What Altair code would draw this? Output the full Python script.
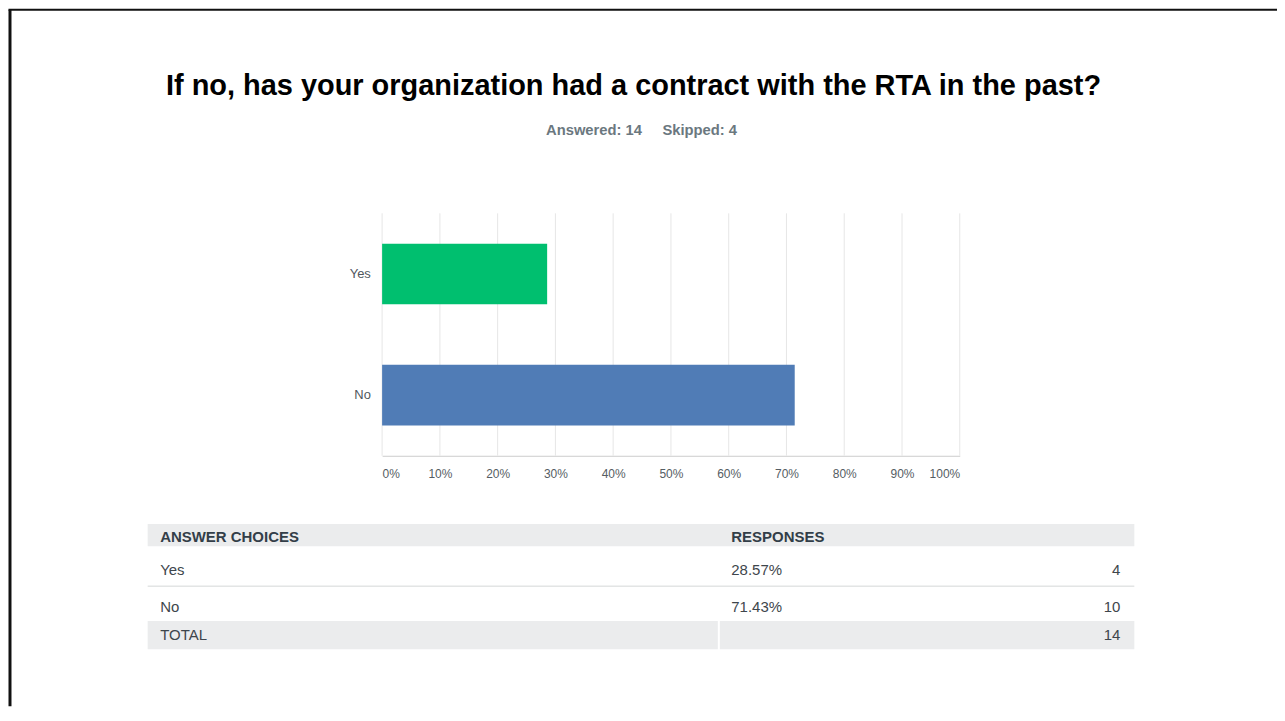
import altair as alt
import pandas as pd

# ---------------- data ----------------
choices = ["Yes", "No"]
percentages = [28.57, 71.43]
counts = [4, 10]
total_label = "TOTAL"
total_count = [14]
answered = 14
skipped = 4
ticks = [0, 10, 20, 30, 40, 50, 60, 70, 80, 90, 100]
bar_colors = ["#00bf6f", "#507cb6"]
title_text = "If no, has your organization had a contract with the RTA in the past?"
header_labels = ["ANSWER CHOICES", "RESPONSES"]

# ---------------- layout (view pixels) ----------------
FONT = "Liberation Sans"
W, H = 1270, 698
PLOT_X0, PLOT_X1 = 373, 952
PLOT_Y0, PLOT_Y1 = 204, 447
TX0, TX1 = 138, 1127
COL1, COL2, COL3 = 150.5, 723, 1113
ROW_Y = {"header": 533.3, "Yes": 567, "No": 603.3, "total": 631.3}

bars_df = pd.DataFrame({"answer": choices, "pct": percentages})
table_df = pd.DataFrame({"label": choices,
                         "frac": [p / 100 for p in percentages],
                         "count": counts})
ticks_df = pd.DataFrame({"tick": ticks})
one = pd.DataFrame({"k": [0]})

x_scale = alt.Scale(domain=[0, 100], range=[PLOT_X0, PLOT_X1], nice=False)
y_scale = alt.Scale(domain=choices, range=[PLOT_Y0, PLOT_Y1],
                    paddingInner=0.5, paddingOuter=0.25)
x_axis = alt.Axis(orient="bottom", offset=PLOT_Y1 - H, values=ticks,
                  labelExpr="datum.value + '%'", labelFlush=True,
                  labelOverlap=False, labelFont=FONT, labelFontSize=12,
                  labelColor="#555d63", labelPadding=13, ticks=False,
                  tickSize=0, grid=False, domainColor="#cccccc",
                  domainWidth=1, title=None)

# frame of the slide
frame_top = alt.Chart(one).mark_rule(color="#111111", strokeWidth=2).encode(
    x=alt.value(-1.5), x2=alt.value(W), y=alt.value(0))
frame_left = alt.Chart(one).mark_rule(color="#111111", strokeWidth=3).encode(
    x=alt.value(0), y=alt.value(0), y2=alt.value(H))

# title + subtitle
title = alt.Chart(pd.DataFrame({"t": [title_text]})).mark_text(
    font=FONT, fontSize=29, fontWeight="bold", color="#000000",
    align="center", baseline="alphabetic").encode(
    x=alt.value(625), y=alt.value(85), text="t:N")
sub1 = alt.Chart(pd.DataFrame({"t": [f"Answered: {answered}"]})).mark_text(
    font=FONT, fontSize=14.8, fontWeight="bold", color="#6b787f",
    align="left", baseline="alphabetic").encode(
    x=alt.value(537.3), y=alt.value(125), text="t:N")
sub2 = alt.Chart(pd.DataFrame({"t": [f"Skipped: {skipped}"]})).mark_text(
    font=FONT, fontSize=14.8, fontWeight="bold", color="#6b787f",
    align="left", baseline="alphabetic").encode(
    x=alt.value(654), y=alt.value(125), text="t:N")

# chart
grid = alt.Chart(ticks_df).mark_rule(color="#e6e6e6", strokeWidth=1).encode(
    x=alt.X("tick:Q", scale=x_scale, axis=x_axis),
    y=alt.value(PLOT_Y0), y2=alt.value(PLOT_Y1))
bars = alt.Chart(bars_df).mark_bar().encode(
    x=alt.X("pct:Q", scale=x_scale, axis=x_axis),
    y=alt.Y("answer:N", sort=choices, scale=y_scale, axis=None),
    color=alt.Color("answer:N", scale=alt.Scale(domain=choices, range=bar_colors),
                    legend=None))
ylabels = alt.Chart(bars_df).mark_text(
    font=FONT, fontSize=13, color="#50575d", align="right",
    baseline="middle").encode(
    x=alt.value(PLOT_X0 - 11.3),
    y=alt.Y("answer:N", sort=choices, scale=y_scale, axis=None),
    text="answer:N")

# table
header_bg = alt.Chart(one).mark_rect(color="#ebeced").encode(
    x=alt.value(TX0), x2=alt.value(TX1), y=alt.value(515.3), y2=alt.value(537.7))
total_bg_l = alt.Chart(one).mark_rect(color="#ebeced").encode(
    x=alt.value(TX0), x2=alt.value(709.5), y=alt.value(612.7), y2=alt.value(641))
total_bg_r = alt.Chart(one).mark_rect(color="#ebeced").encode(
    x=alt.value(711.5), x2=alt.value(TX1), y=alt.value(612.7), y2=alt.value(641))
sep = alt.Chart(one).mark_rule(color="#d5d7d8", strokeWidth=1).encode(
    x=alt.value(TX0), x2=alt.value(TX1), y=alt.value(577.7))

hdr_df = pd.DataFrame({"c1": [header_labels[0]], "c2": [header_labels[1]]})
hdr_style = dict(font=FONT, fontSize=15, fontWeight="bold", color="#333e48",
                 baseline="alphabetic", align="left")
hdr1 = alt.Chart(hdr_df).mark_text(**hdr_style).encode(
    x=alt.value(COL1), y=alt.value(ROW_Y["header"]), text="c1:N")
hdr2 = alt.Chart(hdr_df).mark_text(**hdr_style).encode(
    x=alt.value(COL2), y=alt.value(ROW_Y["header"]), text="c2:N")

body_style = dict(font=FONT, fontSize=15, color="#3e464c", baseline="alphabetic")
row_layers = []
for lab in choices:
    base = alt.Chart(table_df).transform_filter(alt.datum.label == lab)
    yv = ROW_Y[lab]
    row_layers += [
        base.mark_text(align="left", **body_style).encode(
            x=alt.value(COL1), y=alt.value(yv), text="label:N"),
        base.mark_text(align="left", **body_style).encode(
            x=alt.value(COL2), y=alt.value(yv), text=alt.Text("frac:Q", format=".2%")),
        base.mark_text(align="right", **body_style).encode(
            x=alt.value(COL3), y=alt.value(yv), text="count:Q"),
    ]

tot_df = pd.DataFrame({"label": [total_label], "count": total_count})
tot1 = alt.Chart(tot_df).mark_text(align="left", **body_style).encode(
    x=alt.value(COL1), y=alt.value(ROW_Y["total"]), text="label:N")
tot2 = alt.Chart(tot_df).mark_text(align="right", **body_style).encode(
    x=alt.value(COL3), y=alt.value(ROW_Y["total"]), text="count:Q")

chart = alt.layer(
    frame_top, frame_left, title, sub1, sub2,
    grid, bars, ylabels,
    header_bg, total_bg_l, total_bg_r, sep, hdr1, hdr2,
    *row_layers, tot1, tot2,
).properties(
    width=W, height=H,
    autosize=alt.AutoSizeParams(type="none"),
    padding={"left": 2, "top": 1, "right": 0, "bottom": 0},
).configure_view(stroke=None)

chart.save("out.html", embed_options={"renderer": "svg", "actions": False})
